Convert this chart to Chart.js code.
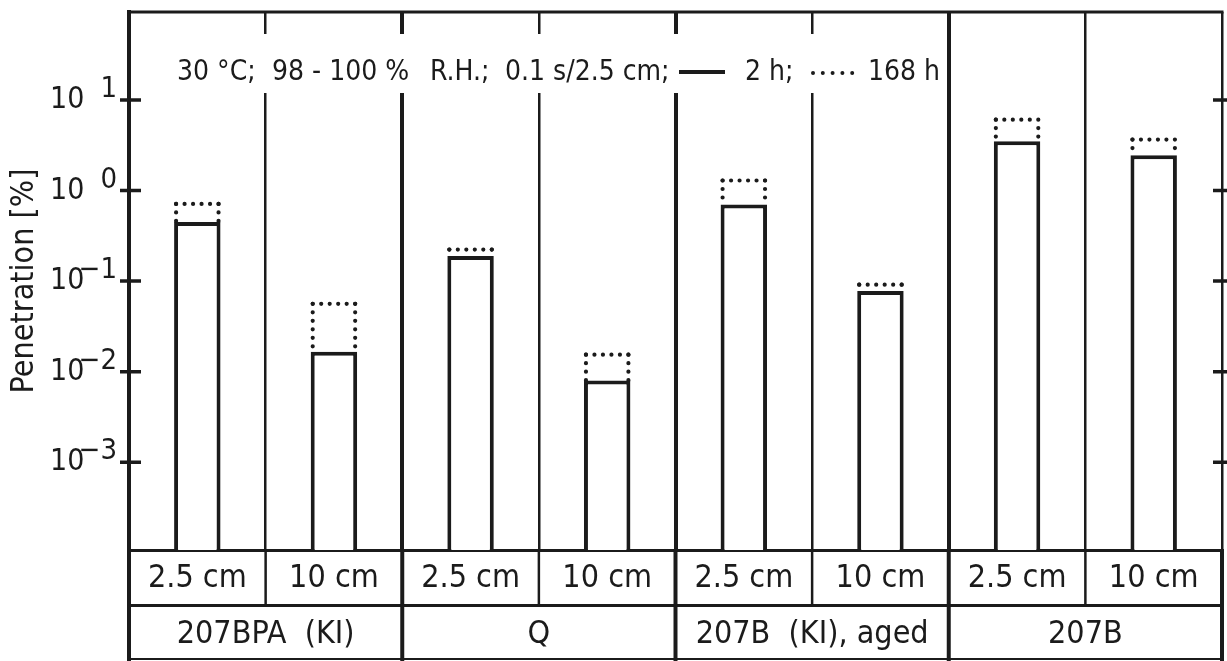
<!DOCTYPE html>
<html>
<head>
<meta charset="utf-8">
<script src="https://cdn.jsdelivr.net/npm/chart.js@4.4.1/dist/chart.umd.min.js"></script>
<style>
  html, body { margin: 0; padding: 0; background: #fff; }
  #wrap { width: 1227px; height: 661px; }
</style>
</head>
<body>
<div id="wrap"><canvas id="penChart"></canvas></div>
<script>
// Iodine penetration through charcoal filters, 2 h vs 168 h exposure
const FONT = '"Liberation Sans Narrow", "DejaVu Sans Condensed", "Liberation Sans", sans-serif';
const INK = "#1b1b1b";

const lengths = ["2.5 cm", "10 cm", "2.5 cm", "10 cm", "2.5 cm", "10 cm", "2.5 cm", "10 cm"];
const filters = ["207BPA  (KI)", "Q", "207B  (KI), aged", "207B"];
const pen2h = [0.45, 0.0166, 0.19, 0.008, 0.7, 0.078, 3.5, 2.45];
const pen168h = [0.75, 0.059, 0.235, 0.0162, 1.36, 0.096, 6.4, 3.85];
const decades = [1e-3, 1e-2, 1e-1, 1, 10];
const exponents = ["−3", "−2", "−1", "0", "1"];

// header line: [text, offset from left axis]
const headerParts = [
  ["30 °C;", 48],
  ["98 - 100 %", 143],
  ["R.H.;", 301],
  ["0.1 s/2.5 cm;", 376],
  ["2 h;", 616],
  ["168 h", 739],
];

function font(size) {
  return size + "px " + FONT;
}

// dotted outline for a 168 h bar, stopping where the 2 h bar begins
function dottedBox(ctx, el, stopY) {
  const half = el.width / 2;
  const l = el.x - half + 2;
  const r = el.x + half - 2;
  const t = el.y + 2;
  const b = Math.min(el.base, stopY);
  const step = (r - l) / 5;
  ctx.save();
  ctx.strokeStyle = INK;
  ctx.lineWidth = 4.2;
  ctx.lineCap = "round";
  ctx.setLineDash([0, step]);
  [[l, t, r, t], [l, t, l, b], [r, t, r, b]].forEach(([x1, y1, x2, y2]) => {
    ctx.beginPath();
    ctx.moveTo(x1, y1);
    ctx.lineTo(x2, y2);
    ctx.stroke();
  });
  ctx.restore();
}

const framePlugin = {
  id: "frame",
  beforeDatasetsDraw(chart) {
    const { ctx, chartArea } = chart;
    const left = chartArea.left;
    const top = chartArea.top;
    // clear the divider lines behind the header
    ctx.save();
    ctx.fillStyle = "#fff";
    ctx.fillRect(left + 38, top + 22, 779, 59);

    ctx.fillStyle = INK;
    ctx.font = font(28);
    ctx.textBaseline = "alphabetic";
    ctx.textAlign = "left";
    headerParts.forEach(([txt, dx]) => ctx.fillText(txt, left + dx, top + 68));

    // legend keys: solid line for 2 h, dots for 168 h
    ctx.strokeStyle = INK;
    ctx.lineWidth = 4;
    ctx.beginPath();
    ctx.moveTo(left + 550, top + 60);
    ctx.lineTo(left + 596, top + 60);
    ctx.stroke();
    ctx.lineCap = "round";
    ctx.setLineDash([0, 9.8]);
    ctx.beginPath();
    ctx.moveTo(left + 684, top + 61);
    ctx.lineTo(left + 733, top + 61);
    ctx.stroke();
    ctx.restore();
  },
  afterDatasetDraw(chart, args) {
    if (args.index !== 1) return;
    const solid = chart.getDatasetMeta(0).data;
    chart.getDatasetMeta(1).data.forEach((el, i) => dottedBox(chart.ctx, el, solid[i].y));
  },
  afterDraw(chart) {
    const { ctx, chartArea } = chart;
    const x = chart.scales.x;
    const x2 = chart.scales.x2;
    const y = chart.scales.y;
    ctx.save();
    ctx.strokeStyle = INK;

    // top edge of the frame
    ctx.lineWidth = 3;
    ctx.beginPath();
    ctx.moveTo(chartArea.left - 2, chartArea.top);
    ctx.lineTo(chartArea.right + 1.5, chartArea.top);
    ctx.stroke();

    // table cell walls under the chart
    const n = lengths.length;
    const halfW = (x.getPixelForValue(1) - x.getPixelForValue(0)) / 2;
    for (let i = 0; i <= n; i++) {
      const px = i < n ? x.getPixelForValue(i) - halfW : x.getPixelForValue(n - 1) + halfW;
      const isGroup = i % 2 === 0;
      ctx.lineWidth = isGroup ? 4 : 2.5;
      ctx.beginPath();
      ctx.moveTo(px, x.top);
      ctx.lineTo(px, isGroup ? x2.bottom : x.bottom);
      ctx.stroke();
    }
    ctx.lineWidth = 2;
    ctx.beginPath();
    ctx.moveTo(chartArea.left, x2.bottom - 2);
    ctx.lineTo(chartArea.right, x2.bottom - 2);
    ctx.stroke();

    // decade ticks on both sides, plus the 10^n labels
    ctx.lineWidth = 3.5;
    y.ticks.forEach((t, i) => {
      const py = y.getPixelForValue(t.value);
      ctx.beginPath();
      ctx.moveTo(chartArea.left - 9, py);
      ctx.lineTo(chartArea.left + 12, py);
      ctx.moveTo(chartArea.right - 9, py);
      ctx.lineTo(chartArea.right + 6, py);
      ctx.stroke();

      ctx.fillStyle = INK;
      ctx.textAlign = "left";
      ctx.font = font(30);
      ctx.fillText("10", 50, py + 8);
      ctx.textAlign = "right";
      ctx.font = font(29);
      ctx.fillText(exponents[i], 117, py - 3);
    });
    ctx.restore();
  },
};

const ctxPen = document.getElementById("penChart").getContext("2d");
const penChart = new Chart(ctxPen, {
  type: "bar",
  data: {
    labels: lengths,
    datasets: [
      {
        label: "2 h",
        data: pen2h,
        backgroundColor: "#fff",
        borderColor: INK,
        borderWidth: 4,
        borderSkipped: "start",
        grouped: false,
        categoryPercentage: 0.34,
        barPercentage: 1,
        order: 0,
      },
      {
        label: "168 h",
        data: pen168h,
        backgroundColor: "rgba(0, 0, 0, 0)",
        borderWidth: 0,
        grouped: false,
        categoryPercentage: 0.34,
        barPercentage: 1,
        order: 1,
      },
    ],
  },
  options: {
    responsive: true,
    maintainAspectRatio: false,
    animation: false,
    layout: {
      padding: { top: 12, right: 5, bottom: 0, left: 0 },
    },
    plugins: {
      legend: { display: false },
      tooltip: { enabled: false },
    },
    scales: {
      y: {
        type: "logarithmic",
        min: 1.07e-4,
        max: 94,
        afterBuildTicks: (scale) => {
          scale.ticks = decades.map((v) => ({ value: v }));
        },
        afterFit: (scale) => {
          scale.width = 129;
        },
        ticks: { display: false },
        grid: { display: false },
        border: { display: true, color: INK, width: 4 },
        title: {
          display: true,
          text: "Penetration [%]",
          color: INK,
          font: { family: FONT, size: 32 },
          padding: { top: 5, bottom: 0 },
        },
      },
      x: {
        type: "category",
        position: "bottom",
        weight: 0,
        offset: true,
        afterFit: (scale) => {
          scale.height = 55;
        },
        grid: {
          offset: true,
          drawTicks: false,
          color: INK,
          lineWidth: (c) => (c.index % 2 === 0 ? 4 : 2.5),
        },
        border: { display: true, color: INK, width: 3 },
        ticks: {
          color: INK,
          padding: 9,
          maxRotation: 0,
          autoSkip: false,
          font: { family: FONT, size: 32 },
        },
      },
      x2: {
        type: "category",
        position: "bottom",
        weight: 1,
        labels: filters,
        offset: true,
        afterFit: (scale) => {
          scale.height = 56;
        },
        grid: { display: false, drawTicks: false },
        border: { display: true, color: INK, width: 3 },
        ticks: {
          color: INK,
          padding: 10,
          maxRotation: 0,
          autoSkip: false,
          font: { family: FONT, size: 32 },
        },
      },
    },
  },
  plugins: [framePlugin],
});
</script>
</body>
</html>
